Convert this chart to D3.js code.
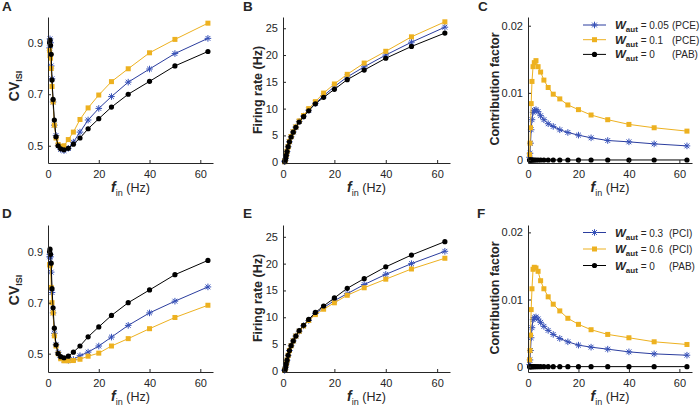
<!DOCTYPE html>
<html><head><meta charset="utf-8">
<script src="https://cdn.jsdelivr.net/npm/d3@7"></script>
<style>
body{margin:0;background:#fff}
svg{display:block}
text{font-family:"Liberation Sans",Arial,Helvetica,sans-serif;fill:#262626}
</style>
</head><body>
<svg id="chart" width="700" height="407"></svg>
<script>
// ---------------- data ----------------
const fin = [0.63, 0.79, 1, 1.26, 1.58, 2, 2.5, 3.16, 4, 5, 6.3, 8, 10, 12.6, 15.8, 20, 25, 31.6, 40, 50, 63];
const xTicks = [0, 20, 40, 60];

// CV_ISI
const cvPAB    = [0.90, 0.91, 0.89, 0.855, 0.755, 0.68, 0.60, 0.535, 0.50, 0.488, 0.484, 0.49, 0.506, 0.53, 0.566, 0.605, 0.65, 0.70, 0.75, 0.81, 0.866];
const cvPCE005 = [0.88, 0.915, 0.90, 0.81, 0.76, 0.67, 0.58, 0.54, 0.50, 0.486, 0.481, 0.49, 0.514, 0.553, 0.60, 0.645, 0.691, 0.747, 0.798, 0.858, 0.917];
const cvPCE01  = [0.87, 0.85, 0.84, 0.80, 0.73, 0.67, 0.58, 0.53, 0.505, 0.497, 0.50, 0.524, 0.553, 0.602, 0.647, 0.697, 0.749, 0.799, 0.861, 0.913, 0.976];
const cvPCI03  = [0.88, 0.89, 0.88, 0.82, 0.74, 0.66, 0.58, 0.535, 0.505, 0.485, 0.476, 0.474, 0.477, 0.492, 0.506, 0.53, 0.565, 0.611, 0.66, 0.706, 0.762];
const cvPCI06  = [0.85, 0.845, 0.85, 0.76, 0.70, 0.66, 0.57, 0.53, 0.50, 0.48, 0.472, 0.472, 0.473, 0.478, 0.49, 0.502, 0.53, 0.559, 0.598, 0.642, 0.69];
const cvTicks = [0.5, 0.7, 0.9];

// Firing rate (Hz)
const ratePAB    = [0.1, 0.3, 0.7, 1.3, 2.0, 2.9, 3.8, 4.7, 5.6, 6.5, 7.5, 8.5, 9.6, 10.9, 12.1, 13.6, 15.4, 17.2, 19.4, 21.6, 24.1];
const ratePCE005 = [0.1, 0.3, 0.7, 1.3, 2.0, 2.9, 3.8, 4.75, 5.65, 6.55, 7.6, 8.6, 9.7, 11.0, 12.4, 14.1, 15.9, 17.8, 20.0, 22.4, 25.2];
const ratePCE01  = [0.1, 0.3, 0.7, 1.3, 2.0, 2.9, 3.85, 4.8, 5.7, 6.6, 7.7, 8.7, 10.0, 11.3, 12.9, 14.6, 16.4, 18.5, 20.7, 23.4, 26.2];
const ratePCI03  = [0.1, 0.3, 0.7, 1.3, 2.0, 2.9, 3.8, 4.7, 5.6, 6.5, 7.4, 8.4, 9.4, 10.7, 11.8, 13.1, 14.4, 16.1, 18.0, 20.0, 22.3];
const ratePCI06  = [0.1, 0.3, 0.7, 1.3, 2.0, 2.9, 3.8, 4.7, 5.6, 6.5, 7.4, 8.4, 9.4, 10.5, 11.5, 12.7, 14.1, 15.5, 17.1, 19.0, 21.0];
const rateTicks = [0, 5, 10, 15, 20, 25];

// Contribution factor
const cfPAB    = [0, 0, 0, 0, 0, 0, 0, 0, 0, 0, 0, 0, 0, 0, 0, 0, 0, 0, 0, 0, 0];
const cfPCE005 = [0.0004, 0.001, 0.0025, 0.0045, 0.006, 0.0071, 0.0074, 0.0075, 0.0072, 0.0066, 0.006, 0.0054, 0.005, 0.0045, 0.0041, 0.0037, 0.0033, 0.0029, 0.0027, 0.0024, 0.0021];
const cfPCE01  = [0.0008, 0.0025, 0.0048, 0.0084, 0.0117, 0.0139, 0.0145, 0.0148, 0.0139, 0.0131, 0.0119, 0.0108, 0.0098, 0.0091, 0.0082, 0.0075, 0.0067, 0.006, 0.0053, 0.0048, 0.0043];
const cfPCI03  = [0.0003, 0.001, 0.0024, 0.0043, 0.0058, 0.007, 0.0073, 0.0074, 0.0071, 0.0066, 0.006, 0.0054, 0.0048, 0.0042, 0.0037, 0.0032, 0.0029, 0.0026, 0.0022, 0.0019, 0.0017];
const cfPCI06  = [0.001, 0.0024, 0.0047, 0.0085, 0.0116, 0.0145, 0.0148, 0.0147, 0.0142, 0.0128, 0.0116, 0.0104, 0.0093, 0.0083, 0.0072, 0.0063, 0.0055, 0.0048, 0.0043, 0.0037, 0.0033];
const cfTicks = [0, 0.01, 0.02];
const cfTickLabels = ["0", "0.01", "0.02"];

const legendPCE = [["0.05", "(PCE)"], ["0.1", "(PCE)"], ["0", "(PAB)"]];
const legendPCI = [["0.3", "(PCI)"], ["0.6", "(PCI)"], ["0", "(PAB)"]];

// ---------------- drawing ----------------
const svg = d3.select("#chart");
const COL = {blue: "#2B3D9E", yellow: "#EDB120", black: "#000000"};
const AX = "#262626";

function drawMarker(g, type, x, y) {
  if (type === "blue") {
    const s = 3.3, d = 2.4;
    g.append("path")
      .attr("d", `M${x - s},${y}H${x + s}M${x},${y - s}V${y + s}M${x - d},${y - d}L${x + d},${y + d}M${x - d},${y + d}L${x + d},${y - d}`)
      .attr("stroke", "#3550B8").attr("stroke-width", 1).attr("fill", "none");
  } else if (type === "yellow") {
    g.append("rect").attr("x", x - 2.5).attr("y", y - 2.5).attr("width", 5).attr("height", 5).attr("fill", COL.yellow);
  } else {
    g.append("circle").attr("cx", x).attr("cy", y).attr("r", 2.6).attr("fill", COL.black);
  }
}

function panel(cfg) {
  const x = d3.scaleLinear().domain([0, 65]).range(cfg.xr);
  const y = d3.scaleLinear().domain(cfg.yd).range(cfg.yr);
  const g = svg.append("g");

  // series
  cfg.series.forEach(s => {
    const pts = fin.map((f, i) => [f, s.v[i]]);
    g.append("path").datum(pts)
      .attr("fill", "none").attr("stroke", COL[s.t]).attr("stroke-width", 1)
      .attr("d", d3.line().x(d => x(d[0])).y(d => y(d[1])));
    const mg = g.append("g");
    pts.forEach(p => drawMarker(mg, s.t, x(p[0]), y(p[1])));
  });

  // axes
  const ax = g.append("g").attr("transform", `translate(0,${cfg.yr[0]})`)
    .call(d3.axisBottom(x).tickValues(xTicks).tickSizeInner(-3).tickSizeOuter(0).tickPadding(5));
  const ay = g.append("g").attr("transform", `translate(${cfg.xr[0]},0)`)
    .call(d3.axisLeft(y).tickValues(cfg.yt).tickFormat((d, i) => cfg.yl[i]).tickSizeInner(-3).tickSizeOuter(0).tickPadding(5));
  [ax, ay].forEach(a => {
    a.select(".domain").attr("stroke", AX).attr("stroke-width", 1);
    a.selectAll(".tick line").attr("stroke", AX);
    a.selectAll(".tick text").attr("font-size", 11).attr("fill", AX)
      .style("font-family", '"Liberation Sans",Arial,sans-serif');
  });
  ax.selectAll(".tick text").attr("dy", "0.95em");

  // x label
  const xc = (cfg.xr[0] + cfg.xr[1]) / 2;
  const xl = g.append("text").attr("x", xc).attr("y", cfg.yr[0] + 29).attr("text-anchor", "middle");
  xl.append("tspan").text("f").attr("font-weight", "bold").attr("font-style", "italic").attr("font-size", 14);
  xl.append("tspan").text("in").attr("font-size", 9).attr("dy", 4);
  xl.append("tspan").text(" (Hz)").attr("font-size", 12.5).attr("dy", -4);

  // y label
  const yl = g.append("text").attr("text-anchor", "middle")
    .attr("transform", `translate(${cfg.ylx},${cfg.yly}) rotate(-90)`).attr("font-weight", "bold");
  if (cfg.ylab === "CV") {
    yl.append("tspan").text("CV").attr("font-size", 14);
    yl.append("tspan").text("ISI").attr("font-size", 9).attr("dy", 3);
  } else {
    yl.text(cfg.ylab).attr("font-size", 12.5);
  }

  // panel letter
  g.append("text").attr("x", cfg.lx).attr("y", cfg.ly).text(cfg.letter)
    .attr("font-weight", "bold").attr("font-size", 13.5).attr("fill", "#000");

  // legend
  if (cfg.legend) {
    const L = cfg.legend;
    const order = ["blue", "yellow", "black"];
    L.rows.forEach((r, i) => {
      const yy = L.y0 + i * L.dy;
      g.append("line").attr("x1", 583).attr("x2", 606).attr("y1", yy).attr("y2", yy)
        .attr("stroke", COL[order[i]]).attr("stroke-width", 1);
      drawMarker(g, order[i], 594.5, yy);
      const t = g.append("text").attr("x", 615).attr("y", yy + 4);
      t.append("tspan").text("W").attr("font-weight", "bold").attr("font-style", "italic").attr("font-size", 11.5);
      t.append("tspan").text("aut").attr("font-weight", "bold").attr("font-size", 8).attr("dy", 3);
      t.append("tspan").text(" = " + r[0]).attr("font-size", 10).attr("dy", -3);
      g.append("text").attr("x", L.px).attr("y", yy + 4).text(r[1]).attr("font-size", 10);
    });
  }
}

const colX = [[48, 213], [283, 450], [528, 692]];
const rowY = [[163, 17], [372, 225]];

panel({xr: colX[0], yr: rowY[0], yd: [0.433, 1.0], yt: cvTicks, yl: ["0.5", "0.7", "0.9"],
  series: [{t: "blue", v: cvPCE005}, {t: "yellow", v: cvPCE01}, {t: "black", v: cvPAB}],
  ylab: "CV", ylx: 19, yly: 86, letter: "A", lx: 2, ly: 11});
panel({xr: colX[1], yr: rowY[0], yd: [-0.15, 27.1], yt: rateTicks, yl: rateTicks.map(String),
  series: [{t: "blue", v: ratePCE005}, {t: "yellow", v: ratePCE01}, {t: "black", v: ratePAB}],
  ylab: "Firing rate (Hz)", ylx: 262, yly: 90, letter: "B", lx: 243, ly: 11});
panel({xr: colX[2], yr: rowY[0], yd: [-0.00045, 0.0213], yt: cfTicks, yl: cfTickLabels,
  series: [{t: "blue", v: cfPCE005}, {t: "yellow", v: cfPCE01}, {t: "black", v: cfPAB}],
  ylab: "Contribution factor", ylx: 499, yly: 89, letter: "C", lx: 478, ly: 11,
  legend: {rows: legendPCE, y0: 25, dy: 14.7, px: 672}});

panel({xr: colX[0], yr: rowY[1], yd: [0.428, 1.005], yt: cvTicks, yl: ["0.5", "0.7", "0.9"],
  series: [{t: "blue", v: cvPCI03}, {t: "yellow", v: cvPCI06}, {t: "black", v: cvPAB}],
  ylab: "CV", ylx: 19, yly: 290, letter: "D", lx: 2, ly: 218});
panel({xr: colX[1], yr: rowY[1], yd: [-0.2, 27.2], yt: rateTicks, yl: rateTicks.map(String),
  series: [{t: "blue", v: ratePCI03}, {t: "yellow", v: ratePCI06}, {t: "black", v: ratePAB}],
  ylab: "Firing rate (Hz)", ylx: 262, yly: 298, letter: "E", lx: 243, ly: 218});
panel({xr: colX[2], yr: rowY[1], yd: [-0.0008, 0.0211], yt: cfTicks, yl: cfTickLabels,
  series: [{t: "blue", v: cfPCI03}, {t: "yellow", v: cfPCI06}, {t: "black", v: cfPAB}],
  ylab: "Contribution factor", ylx: 499, yly: 298, letter: "F", lx: 477, ly: 218,
  legend: {rows: legendPCI, y0: 232.5, dy: 16.5, px: 669}});
</script>
</body></html>
